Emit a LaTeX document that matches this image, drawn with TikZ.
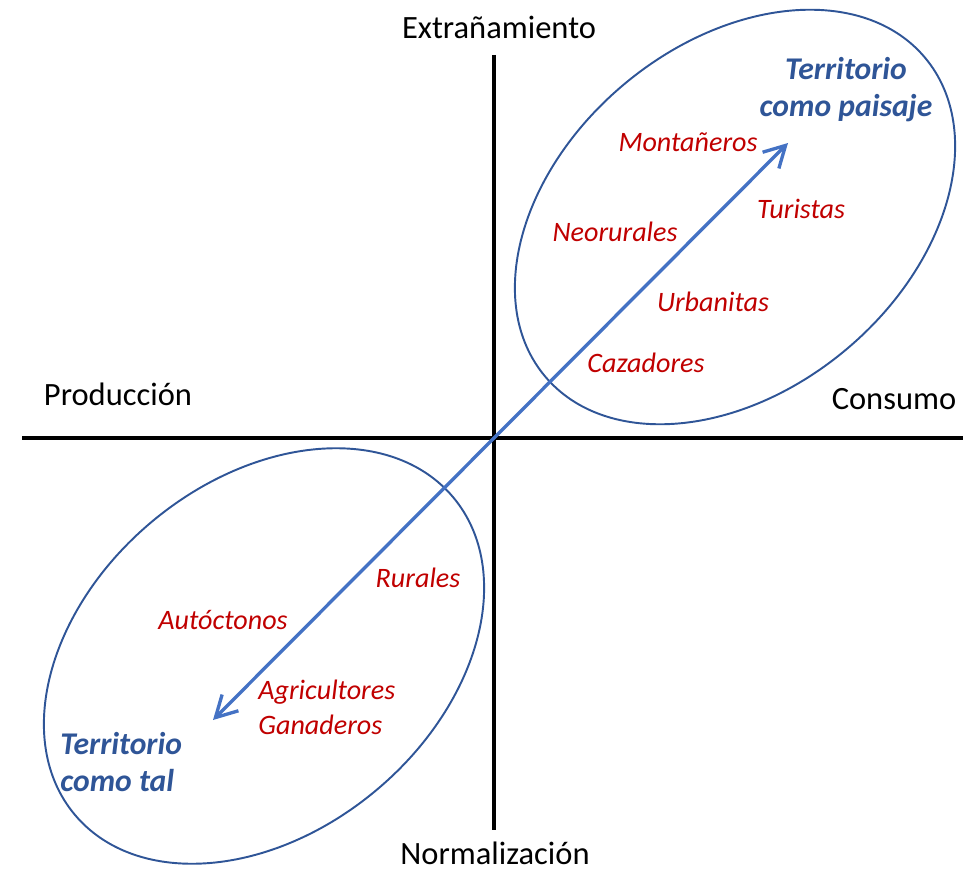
\documentclass[tikz,border=0pt]{standalone}
\usepackage{fontspec}
\setmainfont{Carlito}
\usetikzlibrary{arrows.meta}
\definecolor{rojo}{HTML}{C00000}
\definecolor{azul}{HTML}{2F5597}
\definecolor{azulclaro}{HTML}{4472C4}
\tikzset{
eje/.style={draw=black, line width=2.2pt},
ejelabel/.style={font=\fontsize{18.5}{22}\selectfont, inner sep=0pt},
grupo/.style={font=\fontsize{16}{19.8}\selectfont\itshape, text=rojo, inner sep=0pt, align=left},
territorio/.style={font=\fontsize{18}{21}\selectfont\bfseries\itshape, text=azul, inner sep=0pt},
elipse/.style={draw=azul, line width=1.1pt},
flecha/.style={draw=azulclaro, line width=1.9pt, {Straight Barb[length=0.42cm,width=0.46cm]}-{Straight Barb[length=0.42cm,width=0.46cm]}},
}

\begin{document}
\begin{tikzpicture}[x=0.02cm, y=-0.02cm]
\useasboundingbox (0,0) rectangle (966,871);

% ejes
\coordinate (izq) at (22,438);
\coordinate (der) at (963,438);
\coordinate (arr) at (494,55);
\coordinate (aba) at (494,830);
\draw[eje] (izq) -- (der);
\draw[eje] (arr) -- (aba);

\node[ejelabel] (extr) at (499,27) {Extrañamiento};
\node[ejelabel, anchor=base] (norm) at (495,864) {Normalización};
\node[ejelabel] (prod) at (118,394) {Producción};
\node[ejelabel] (cons) at (894,399) {Consumo};

% elipses
\draw[elipse, rotate around={40:(735,217)}] (735,217) ellipse [x radius=4.96cm, y radius=3.46cm];
\draw[elipse, rotate around={40:(264,656)}] (264,656) ellipse [x radius=4.94cm, y radius=3.50cm];

% flecha
\coordinate (paisaje) at (788,143);
\coordinate (tal) at (213,720);
\draw[flecha] (tal) -- (paisaje);

% grupos
\node[territorio, align=center] (tpaisaje) at (846,90) {Territorio\\como paisaje};
\node[grupo] (mont) at (688,142) {Montañeros};
\node[grupo] (turi) at (801,209) {Turistas};
\node[grupo] (neor) at (615,232) {Neorurales};
\node[grupo] (urba) at (713,302) {Urbanitas};
\node[grupo] (caza) at (646,363) {Cazadores};

\node[grupo] (rura) at (418,578) {Rurales};
\node[grupo] (auto) at (223,620) {Autóctonos};
\node[grupo, anchor=west] (agri) at (258,707) {Agricultores\\Ganaderos};
\node[territorio, align=left, anchor=west] (ttal) at (60,762) {Territorio\\como tal};

\end{tikzpicture}
\end{document}
